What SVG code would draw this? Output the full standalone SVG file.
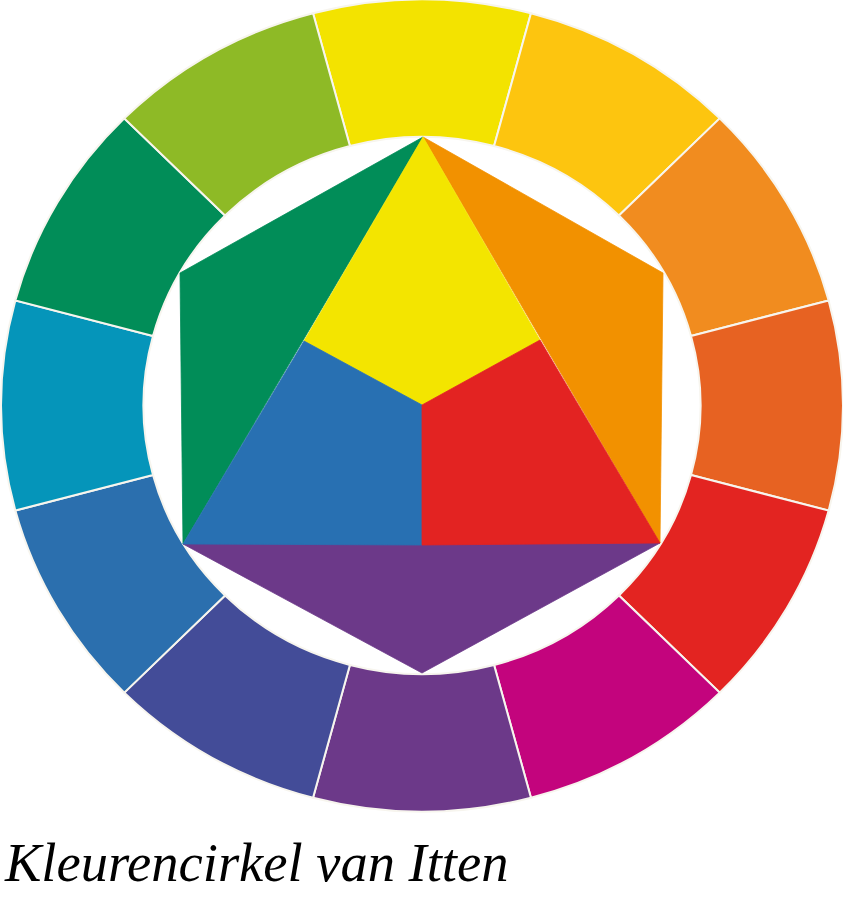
<svg xmlns="http://www.w3.org/2000/svg" width="843" height="915" viewBox="0 0 843 915">
  <style>
    .seg { stroke: #f7f5ee; stroke-width: 2; vector-effect: non-scaling-stroke; stroke-linejoin: miter; }
    .tri { stroke-width: 0.8; stroke-linejoin: miter; }
    .caption { font-family: "Liberation Serif", "Times New Roman", serif; font-style: italic; font-size: 54.5px; fill: #000; }
  </style>
  <rect width="843" height="915" fill="#ffffff"/>
  <g id="ring" transform="translate(422,405.5) scale(1,0.9645)">
    <g id="seg-yellow"><path class="seg" fill="#F3E300" d="M-108.96,-406.65 A421,421 0 0 1 108.96,-406.65 L72.08,-269.01 A278.5,278.5 0 0 0 -72.08,-269.01 Z"/></g>
    <g id="seg-yellow-orange"><path class="seg" fill="#FDC50F" d="M108.96,-406.65 A421,421 0 0 1 297.69,-297.69 L196.93,-196.93 A278.5,278.5 0 0 0 72.08,-269.01 Z"/></g>
    <g id="seg-orange"><path class="seg" fill="#F18C1F" d="M297.69,-297.69 A421,421 0 0 1 406.65,-108.96 L269.01,-72.08 A278.5,278.5 0 0 0 196.93,-196.93 Z"/></g>
    <g id="seg-red-orange"><path class="seg" fill="#E76222" d="M406.65,-108.96 A421,421 0 0 1 406.65,108.96 L269.01,72.08 A278.5,278.5 0 0 0 269.01,-72.08 Z"/></g>
    <g id="seg-red"><path class="seg" fill="#E32421" d="M406.65,108.96 A421,421 0 0 1 297.69,297.69 L196.93,196.93 A278.5,278.5 0 0 0 269.01,72.08 Z"/></g>
    <g id="seg-red-violet"><path class="seg" fill="#C3047D" d="M297.69,297.69 A421,421 0 0 1 108.96,406.65 L72.08,269.01 A278.5,278.5 0 0 0 196.93,196.93 Z"/></g>
    <g id="seg-violet"><path class="seg" fill="#6C3989" d="M108.96,406.65 A421,421 0 0 1 -108.96,406.65 L-72.08,269.01 A278.5,278.5 0 0 0 72.08,269.01 Z"/></g>
    <g id="seg-blue-violet"><path class="seg" fill="#434C98" d="M-108.96,406.65 A421,421 0 0 1 -297.69,297.69 L-196.93,196.93 A278.5,278.5 0 0 0 -72.08,269.01 Z"/></g>
    <g id="seg-blue"><path class="seg" fill="#2B6FAE" d="M-297.69,297.69 A421,421 0 0 1 -406.65,108.96 L-269.01,72.08 A278.5,278.5 0 0 0 -196.93,196.93 Z"/></g>
    <g id="seg-blue-green"><path class="seg" fill="#0595BA" d="M-406.65,108.96 A421,421 0 0 1 -406.65,-108.96 L-269.01,-72.08 A278.5,278.5 0 0 0 -269.01,72.08 Z"/></g>
    <g id="seg-green"><path class="seg" fill="#018D58" d="M-406.65,-108.96 A421,421 0 0 1 -297.69,-297.69 L-196.93,-196.93 A278.5,278.5 0 0 0 -269.01,-72.08 Z"/></g>
    <g id="seg-yellow-green"><path class="seg" fill="#8EBA26" d="M-297.69,-297.69 A421,421 0 0 1 -108.96,-406.65 L-72.08,-269.01 A278.5,278.5 0 0 0 -196.93,-196.93 Z"/></g>
  </g>
  <g id="hexagon">
    <g id="tri-green"><polygon class="tri" fill="#018D58" stroke="#018D58" points="423,137 180,273 183,544"/></g>
    <g id="tri-orange"><polygon class="tri" fill="#F29100" stroke="#F29100" points="423,137 663,273 660,543"/></g>
    <g id="tri-violet"><polygon class="tri" fill="#6C3989" stroke="#6C3989" points="183,544 660,543 422,673"/></g>
    <g id="part-yellow"><polygon class="tri" fill="#F3E500" stroke="#F3E500" points="423,137 304,341 422,405 540,340"/></g>
    <g id="part-blue"><polygon class="tri" fill="#2870B2" stroke="#2870B2" points="304,341 422,405 422,545 183,544"/></g>
    <g id="part-red"><polygon class="tri" fill="#E32322" stroke="#E32322" points="540,340 422,405 422,545 660,543"/></g>
  </g>
  <g id="caption">
    <text class="caption" x="5" y="881">Kleurencirkel van Itten</text>
  </g>
</svg>
